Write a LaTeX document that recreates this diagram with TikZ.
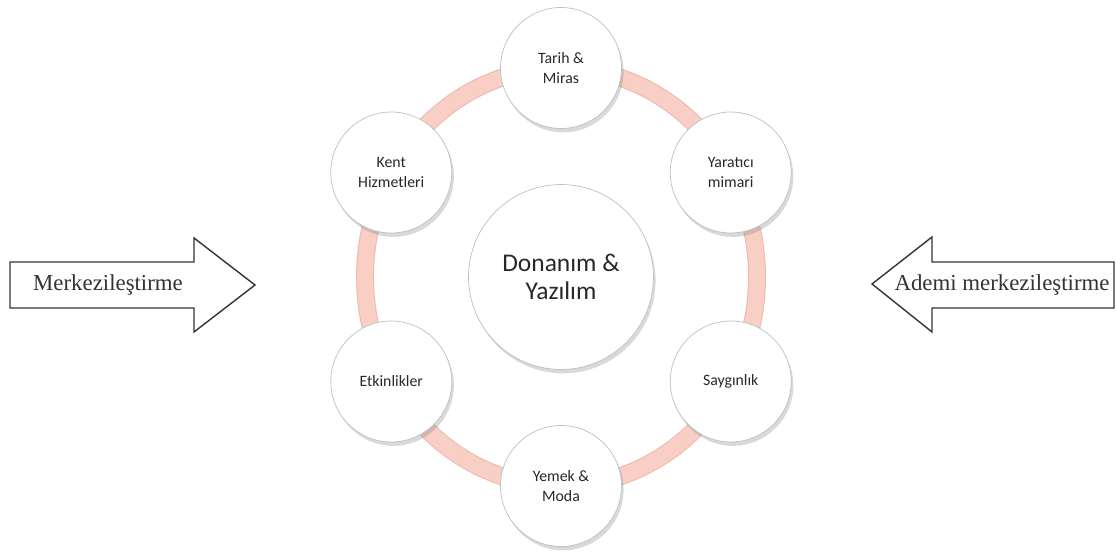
\documentclass[tikz,border=0pt]{standalone}
\usepackage{fontspec}
\setmainfont{Liberation Serif}
\newfontfamily\discfont{Carlito}
\usetikzlibrary{positioning, calc, shadows}
\definecolor{ringpink}{RGB}{249,206,196}
\definecolor{ringedge}{RGB}{236,186,174}
\definecolor{discedge}{RGB}{176,198,196}
\definecolor{disctext}{RGB}{40,40,40}
\pgfdeclareradialshading{discshade}{\pgfpoint{0bp}{0bp}}{color(0bp)=(white); color(38bp)=(white); color(42bp)=(gray!9); color(45bp)=(white); color(47.5bp)=(gray!12); color(50bp)=(gray!38)}

\begin{document}
\begin{tikzpicture}[x=0.02cm, y=0.02cm,
  disc/.style={circle, minimum size=2.42cm, inner sep=0pt, draw=discedge, line width=0.4pt,
    shading=discshade, drop shadow={shadow xshift=1.2pt, shadow yshift=-2.2pt, opacity=0.3},
    font=\discfont\fontsize{9}{11}\selectfont, text=disctext, align=center},
  hub/.style={disc, minimum size=3.7cm, font=\discfont\fontsize{14.5}{16}\selectfont},
  bigarrow/.style={draw=black!80, line width=0.8pt, fill=white},
  arrowtext/.style={font=\fontsize{13}{15}\selectfont, text=black!80}]
  \useasboundingbox (0,0) rectangle (1116,554);
  \coordinate (ringc) at (561,277);
  \draw[ringedge, line width=10.2pt] (ringc) ellipse [x radius=196, y radius=209];
  \draw[ringpink, line width=9pt] (ringc) ellipse [x radius=196, y radius=209];
  \node[hub] (hub) at (ringc) {Donanım \&\\Yazılım};
  \foreach \a/\n/\t in {90/tarih/{Tarih \&\\Miras}, 30/yaratici/{Yaratıcı\\mimari}, -30/saygi/{Saygınlık},
      -90/yemek/{Yemek \&\\Moda}, 210/etkinlik/{Etkinlikler}, 150/kent/{Kent\\Hizmetleri}} {
    \node[disc] (\n) at ($(ringc)+(\a:196 and 209)$) {\t};
  }
  \draw[bigarrow] (10,246) -- (194,246) -- (194,222) -- (255,269) -- (194,316) -- (194,292) -- (10,292) -- cycle;
  \node[arrowtext] (merk) at (108,269) {Merkezileştirme};
  \draw[bigarrow] (1114,246) -- (932,246) -- (932,222) -- (872,270) -- (932,317) -- (932,292) -- (1114,292) -- cycle;
  \node[arrowtext] (ademi) at (1002,269) {Ademi merkezileştirme};
\end{tikzpicture}
\end{document}
